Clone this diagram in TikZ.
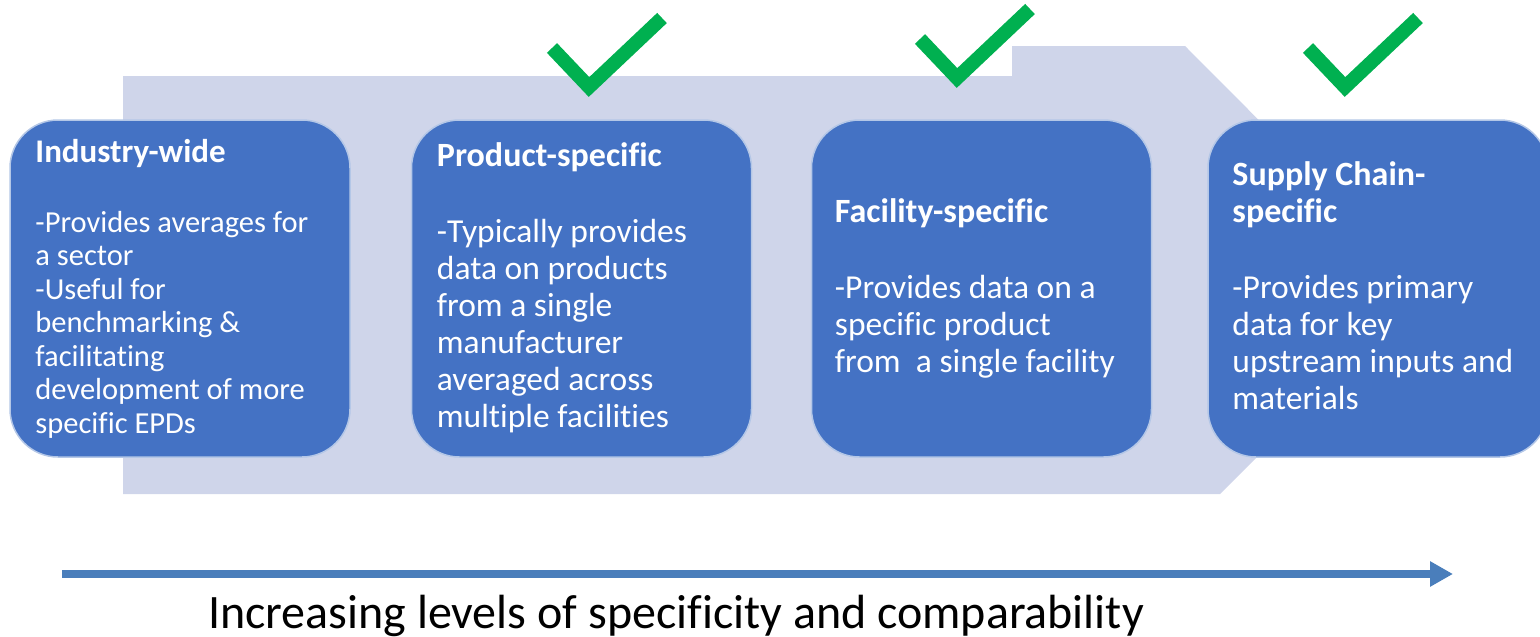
\documentclass[tikz,border=0pt]{standalone}
\usepackage{fontspec}
\setmainfont[Ligatures=CommonOff]{Carlito}
\usetikzlibrary{arrows.meta}

\definecolor{bandlavender}{HTML}{CFD5EA}
\definecolor{stageblue}{HTML}{4472C4}
\definecolor{stageedge}{HTML}{B4C7E7}
\definecolor{tickgreen}{HTML}{00B050}
\definecolor{axisblue}{HTML}{4A7EBB}

\begin{document}
\begin{tikzpicture}[x=1pt,y=-1pt,
    stagebox/.style={draw=stageedge,line width=1.5pt,fill=stageblue,rounded corners=48pt,
      minimum width=340pt,minimum height=337pt,inner sep=0pt},
    stagetext/.style={text=white,align=left,inner sep=0pt,anchor=west,
      font=\fontsize{33.5}{37}\selectfont},
    tick/.style={draw=tickgreen,line width=14pt,line cap=butt,line join=miter}
  ]

      \clip (0,0) rectangle (1540,637);

      % lavender band behind the stages
      \fill[bandlavender] (123,76) -- (1012,76) -- (1012,46) -- (1185,46)
        -- (1426,288) -- (1220,494) -- (123,494) -- cycle;

      % stages
      \node[stagebox] (industry) at (180,288.5) {};
      \node[stagebox] (product) at (581.5,288.5) {};
      \node[stagebox] (facility) at (981.5,288.5) {};
      \node[stagebox] (supply) at (1378,288.5) {};

      \node[stagetext,font=\fontsize{30.5}{33.5}\selectfont] (industry text)
        at ([xshift=26pt]industry.west)
        {\textbf{\fontsize{33}{33.5}\selectfont Industry-wide}\\[36.5pt]
         -Provides averages for\\ a sector\\ -Useful for\\ benchmarking \&\\
         facilitating\\ development of more\\ specific EPDs};
      \node[stagetext] (product text) at ([xshift=26pt,yshift=1pt]product.west)
        {\textbf{\fontsize{34}{37}\selectfont Product-specific}\\[39pt]
         -Typically provides\\ data on products\\ from a single\\ manufacturer\\
         averaged across\\ multiple facilities};
      \node[stagetext] (facility text) at ([xshift=24pt]facility.west)
        {\textbf{\fontsize{34}{37}\selectfont Facility-specific}\\[39pt]
         -Provides data on a\\ specific product\\ from\ \ a single facility};
      \node[stagetext] (supply text) at ([xshift=25pt,yshift=3pt]supply.west)
        {\textbf{\fontsize{34}{37}\selectfont Supply Chain-}\\
         \textbf{\fontsize{34}{37}\selectfont specific}\\[39pt]
         -Provides primary\\ data for key\\ upstream inputs and\\ materials};

      % checks
      \foreach \dx/\dy in {0/0, 368/-9, 756/0}{
        \begin{scope}[shift={(\dx,\dy)}]
          \draw[tick] (552,48) -- (589,87) -- (662,18);
        \end{scope}
      }

      % scale
      \coordinate (scale start) at (62,574);
      \coordinate (scale end) at (1453,574);
      \draw[axisblue,line width=8pt,-{Triangle[length=23pt,width=24pt]}]
        (scale start) -- (scale end);
      \node[font=\fontsize{48}{52}\selectfont,anchor=base] (scale label) at (676,628)
        {Increasing levels of specificity and comparability};

\end{tikzpicture}
\end{document}
